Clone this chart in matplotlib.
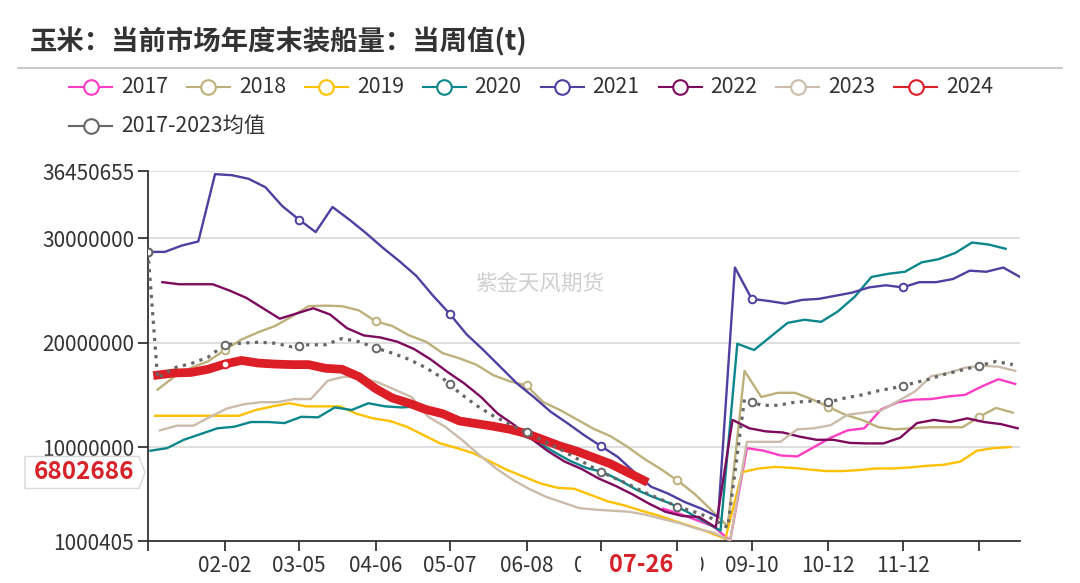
import numpy as np
import matplotlib
matplotlib.use('Agg')
import matplotlib.pyplot as plt
from matplotlib.lines import Line2D
from matplotlib.patches import Rectangle, Polygon
from matplotlib.transforms import IdentityTransform

plt.rcParams['font.family'] = ['Noto Sans CJK SC', 'DejaVu Sans']

# ---------------- data (million tonnes, weekly, x = day of year) ----------------
UNIT = 1e6
STEP = 7

y2017_start = 215
y2017 = [4.1, 3.6, 3.0, 2.4, 1.05, 9.9, 9.65, 9.2, 9.1, 10.0, 10.9, 11.6, 11.8, 13.6,
         14.3, 14.55, 14.6, 14.85, 15.0, 15.8, 16.5, 16.05]

y2018_start = 4
y2018 = [15.5, 16.75, 17.6, 18.2, 19.3, 20.3, 21.0, 21.6, 22.5, 23.5, 23.55, 23.5, 23.1,
         22.05, 21.6, 20.7, 20.1, 19.0,
         18.5, 17.9, 16.9, 16.3, 15.9, 14.3, 13.55, 12.65, 11.75, 11.05, 10.05, 8.9, 7.9,
         6.8, 5.55, 4.0, 2.4, 17.3,
         14.8, 15.2, 15.2, 14.6, 13.85, 13.1, 12.6, 11.9, 11.7, 11.8, 11.9, 11.9, 11.9,
         12.9, 13.75, 13.3]

y2019_start = 3
y2019 = [13.0, 13.0, 13.0, 13.0, 13.0, 13.0, 13.55, 13.9, 14.2, 13.9, 13.9, 13.9, 13.2,
         12.75, 12.5, 11.95, 11.15, 10.35,
         9.9, 9.4, 8.6, 7.8, 7.15, 6.5, 6.1, 6.0, 5.4, 4.8, 4.4, 3.9, 3.45, 2.9, 2.4, 1.85,
         1.2, 7.6,
         7.95, 8.1, 8.0, 7.85, 7.7, 7.7, 7.8, 7.95, 7.95, 8.05, 8.2, 8.3, 8.6, 9.65, 9.9, 10.0]

y2020_start = 1
y2020 = [9.65, 9.9, 10.7, 11.25, 11.8, 11.95, 12.4, 12.4, 12.3, 12.9, 12.85, 13.8, 13.55,
         14.2, 13.9, 13.8, 13.9, 13.4,
         13.0, 12.5, 12.3, 11.7, 11.2, 10.6, 9.6, 8.7, 8.0, 7.6, 6.8, 5.9, 5.2, 4.6, 3.8,
         2.9, 2.0, 19.9,
         19.3, 20.6, 21.9, 22.2, 22.0, 23.0, 24.4, 26.3, 26.6, 26.8, 27.7, 28.0, 28.6, 29.6,
         29.4, 29.0]

y2021_start = 0
y2021 = [28.7, 28.7, 29.3, 29.7, 36.15, 36.05, 35.7, 34.9, 33.1, 31.8, 30.6, 33.0, 31.8,
         30.5, 29.1, 27.8, 26.4, 24.5,
         22.75, 20.8, 19.3, 17.7, 16.1, 14.8, 13.4, 12.3, 11.15, 10.1, 9.07, 7.6, 6.2, 5.55,
         4.74, 4.1, 3.3, 27.2,
         24.2, 24.0, 23.75, 24.1, 24.2, 24.5, 24.8, 25.3, 25.5, 25.3, 25.8, 25.8, 26.1, 26.9,
         26.8, 27.2, 26.3]

y2022_start = 6
y2022 = [25.8, 25.6, 25.6, 25.6, 25.0, 24.3, 23.3, 22.3, 22.8, 23.3, 22.7, 21.4, 20.7,
         20.5, 20.1, 19.4, 18.4,
         17.2, 16.1, 14.8, 13.2, 12.1, 10.8, 9.6, 8.6, 7.9, 7.0, 6.3, 5.5, 4.6, 3.8, 3.4,
         3.3, 2.3, 12.6,
         11.8, 11.5, 11.4, 11.0, 10.7, 10.7, 10.4, 10.35, 10.35, 10.9, 12.3, 12.6, 12.4,
         12.75, 12.4, 12.2, 11.8]

y2023_start = 5
y2023 = [11.6, 12.05, 12.05, 12.9, 13.7, 14.1, 14.3, 14.3, 14.6, 14.6, 16.35, 16.75, 16.65,
         16.2, 15.5, 14.8, 12.9, 11.95,
         10.7, 9.3, 8.0, 6.9, 6.0, 5.25, 4.7, 4.15, 4.0, 3.9, 3.8, 3.5, 3.1, 2.7, 2.2, 1.8,
         1.05, 10.5,
         10.5, 10.5, 11.7, 11.8, 12.1, 13.1, 13.3, 13.5, 14.4, 15.3, 16.8, 17.1, 17.6, 17.8,
         17.7, 17.3]

y2024_start = 4
y2024 = [16.9, 17.1, 17.15, 17.45, 17.95, 18.3, 18.05, 17.95, 17.9, 17.9, 17.55, 17.45,
         16.75, 15.6, 14.7, 14.2, 13.6, 13.2,
         12.5, 12.25, 12.0, 11.7, 11.3, 10.7, 10.1, 9.6, 9.0, 8.4, 7.6, 6.802686]

mean_first_day = 0
mean_first = 28.7
mean_start = 4
mean_vals = [16.6, 17.6, 18.0, 18.6, 19.8, 19.95, 20.05, 19.95, 19.6, 19.8, 19.8, 20.4, 20.1,
             19.5, 19.0, 18.4, 17.6, 16.6, 15.2, 14.0, 13.0, 12.2, 11.4, 10.6, 9.8, 8.9,
             8.0, 7.2, 6.5, 5.7, 5.0, 4.3, 3.8, 3.2, 2.3, 14.6, 14.0, 14.0, 14.3, 14.4,
             14.3, 14.7, 15.0, 15.4, 15.7, 16.1, 16.5, 17.0, 17.4, 17.8, 18.2, 17.9]

tick_days = [0, 32, 63, 95, 126, 158, 189, 221, 252, 284, 315, 347]
tick_labels = ['', '02-02', '03-05', '04-06', '05-07', '06-08', '07-09', '08-10',
               '09-10', '10-12', '11-12', '']
y_ticks = [1000405, 10000000, 20000000, 30000000, 36450655]
pointer_day = 206
pointer_label = '07-26'
pointer_value = 6802686

series_names = ['2017', '2018', '2019', '2020', '2021', '2022', '2023', '2024']
series_starts = [y2017_start, y2018_start, y2019_start, y2020_start, y2021_start,
                 y2022_start, y2023_start, y2024_start]
series_vals = [y2017, y2018, y2019, y2020, y2021, y2022, y2023, y2024]
mean_name = '2017-2023均值'

# ---------------- style ----------------
colors = ['#FF3CC4', '#BDB07A', '#FFC000', '#0B878C', '#4E3FA0', '#7E0A5E', '#CBBCAA', '#DC1F27']
mean_color = '#666666'
marker_days_override = {'2024': [32]}
W, H, DPI = 1080, 583, 100

fig = plt.figure(figsize=(W / DPI, H / DPI), dpi=DPI)
fig.patch.set_facecolor('white')
ax = fig.add_axes([148 / W, 42 / H, 872 / W, 370 / H])

ax.set_xlim(0, 364)
ax.set_ylim(y_ticks[0], y_ticks[-1])

for name, start, vals, c in zip(series_names, series_starts, series_vals, colors):
    days = start + STEP * np.arange(len(vals))
    v = np.array(vals) * UNIT
    allowed = set(marker_days_override.get(name, tick_days))
    mk = [i for i, d in enumerate(days) if d in allowed]
    is_cur = name == '2024'
    ax.plot(days, v, color=c, lw=6.3 if is_cur else 1.7,
            marker='o', markevery=mk, ms=5.5, mfc='white', mec=c, mew=1.4,
            solid_joinstyle='round', zorder=4 if is_cur else 3)

mean_days = np.concatenate([[mean_first_day], mean_start + STEP * np.arange(len(mean_vals))])
mean_v = np.concatenate([[mean_first], mean_vals]) * UNIT
ax.plot(mean_days, mean_v, color=mean_color, lw=2.3, ls=(0, (1, 1.7)), zorder=5)
mk_days = np.array(tick_days)
ax.plot(mk_days, np.interp(mk_days, mean_days, mean_v), ls='none', marker='o', ms=5.5,
        mfc='white', mec=mean_color, mew=1.4, zorder=6)

# axes styling
for s in ['top', 'right']:
    ax.spines[s].set_visible(False)
for s in ['left', 'bottom']:
    ax.spines[s].set_color('#333333')
    ax.spines[s].set_linewidth(1.3)
ax.set_yticks(y_ticks)
ax.set_yticklabels([str(t) for t in y_ticks])
ax.set_xticks(tick_days)
ax.set_xticklabels(tick_labels)
ax.tick_params(axis='y', length=7, width=1.3, color='#333333', labelsize=15,
               labelcolor='#333333', pad=3)
ax.tick_params(axis='x', length=7, width=1.3, color='#333333', labelsize=15,
               labelcolor='#333333', pad=3)
ax.yaxis.grid(True, color='#dcdcdc', lw=1.3)
ax.set_axisbelow(True)

# watermark
fig.text(540 / W, 1 - 284 / H, '紫金天风期货', color='#cfcfcf', fontsize=15.5,
         ha='center', va='center')

# title and separator
fig.text(30 / W, 1 - 42 / H, '玉米：当前市场年度末装船量：当周值(t)', fontsize=19.7,
         fontweight='bold', color='#333333', va='center', ha='left')
fig.add_artist(Line2D([18 / W, 1062 / W], [1 - 68 / H, 1 - 68 / H], color='#c4c4c4',
                      lw=1.3, transform=fig.transFigure))

# legend (manual)
def legend_item(x0, yc, label, c):
    fig.add_artist(Line2D([x0 / W, (x0 + 43) / W], [1 - yc / H] * 2, color=c, lw=1.5,
                          transform=fig.transFigure))
    fig.add_artist(Line2D([(x0 + 21.5) / W], [1 - yc / H], color=c, marker='o', ms=10.5,
                          mfc='white', mec=c, mew=1.5, ls='none', transform=fig.transFigure))
    fig.text((x0 + 52) / W, 1 - yc / H, label, fontsize=15.3, color='#333333',
             va='center', ha='left')

for i, (name, c) in enumerate(zip(series_names, colors)):
    legend_item(69 + 117.9 * i, 87, name, c)
legend_item(69, 126, mean_name, mean_color)

# x pointer label box (covers the neighbouring category labels, as in the source)
px = ax.transData.transform((pointer_day, y_ticks[0]))[0]
fig.add_artist(Rectangle((px - 60, 1), 120, 31, transform=IdentityTransform(),
                         facecolor='white', edgecolor='none', zorder=10))
fig.text(px / W, 1 - 565 / H, pointer_label, color='#D7222A', fontsize=17,
         fontweight='bold', ha='center', va='center', zorder=11)

# y pointer label box
py = ax.transData.transform((0, pointer_value))[1] + 8
poly = Polygon([(25, py - 16), (139, py - 16), (145, py), (139, py + 16), (25, py + 16)],
               closed=True, transform=IdentityTransform(), facecolor='white',
               edgecolor='#d8d8d8', lw=1.0, zorder=10)
fig.add_artist(poly)
fig.text(84 / W, py / H, f'{pointer_value}', color='#D7222A', fontsize=17.5,
         fontweight='bold', ha='center', va='center', zorder=11)

fig.savefig('out.png', dpi=DPI, facecolor='white')
